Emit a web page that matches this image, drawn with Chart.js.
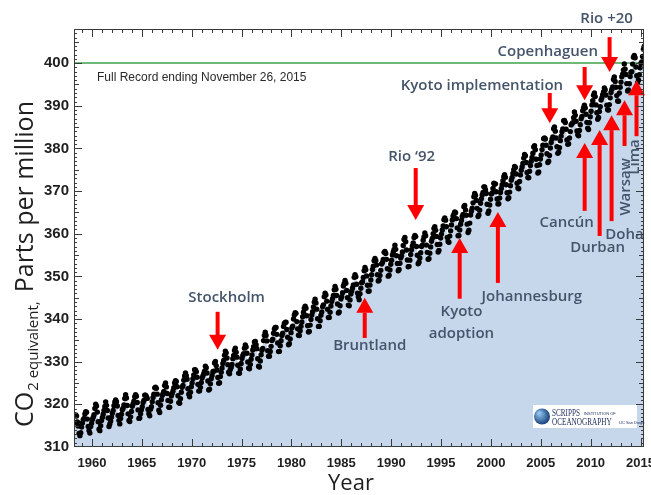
<!DOCTYPE html>
<html>
<head>
<meta charset="utf-8">
<script src="https://cdn.jsdelivr.net/npm/chart.js@4.4.1/dist/chart.umd.min.js"></script>
<style>
  html, body { margin: 0; padding: 0; background: #fff; }
  #wrap { width: 651px; height: 495px; }
</style>
</head>
<body>
<div id="wrap"><canvas id="chart" width="651" height="495"></canvas></div>
<script>
  // axis ticks
  const xTickYears = [1960, 1965, 1970, 1975, 1980, 1985, 1990, 1995, 2000, 2005, 2010, 2015];
  const yTickPpm = [310, 320, 330, 340, 350, 360, 370, 380, 390, 400];
  const markerPpm = 400;

  // monthly mean CO2 (ppm), each array starts in January of its first year
  const co2_1958_1969 = [
    null, null, 315.70, 317.45, 317.51, 317.24, 315.86, 314.93, 313.20, 312.66, 313.33, 314.67,
    315.62, 316.38, 316.71, 317.72, 318.29, 318.15, 316.54, 314.80, 313.84, 313.26, 314.80, 315.58,
    316.43, 316.97, 317.58, 319.02, 320.03, 319.59, 318.18, 315.91, 314.16, 313.83, 315.00, 316.19,
    316.93, 317.70, 318.54, 319.48, 320.58, 319.77, 318.57, 316.79, 314.80, 315.38, 316.10, 317.01,
    317.94, 318.56, 319.68, 320.57, 321.02, 320.62, 319.61, 317.40, 316.25, 315.42, 316.69, 317.70,
    318.74, 319.07, 319.86, 321.38, 322.25, 321.48, 319.74, 317.77, 316.21, 315.99, 317.07, 318.35,
    319.57, 320.07, 320.73, 321.77, 322.25, 321.89, 320.44, 318.70, 316.70, 316.79, 317.79, 318.71,
    319.44, 320.44, 320.89, 322.13, 322.16, 321.87, 321.39, 318.81, 317.81, 317.30, 318.87, 319.42,
    320.62, 321.59, 322.39, 323.87, 324.01, 323.75, 322.39, 320.37, 318.64, 318.10, 319.79, 321.08,
    322.07, 322.50, 323.04, 324.42, 325.00, 324.09, 322.55, 320.92, 319.31, 319.31, 320.72, 321.96,
    322.57, 323.15, 323.89, 325.02, 325.57, 325.36, 324.14, 322.03, 320.41, 320.25, 321.31, 322.84,
    324.00, 324.42, 325.64, 326.66, 327.38, 326.70, 325.89, 323.67, 322.38, 321.78, 322.85, 324.12
  ];
  const co2_1970_1979 = [
    325.03, 325.99, 326.87, 328.13, 328.07, 327.66, 326.35, 324.69, 323.10, 323.16, 323.98, 325.13,
    326.17, 326.68, 327.18, 327.78, 328.92, 328.57, 327.34, 325.46, 323.36, 323.57, 324.80, 326.01,
    326.77, 327.63, 327.75, 329.72, 330.07, 329.09, 328.05, 326.32, 324.93, 325.06, 326.50, 327.55,
    328.54, 329.56, 330.30, 331.50, 332.48, 332.07, 330.87, 329.31, 327.51, 327.18, 328.16, 328.64,
    329.35, 330.71, 331.48, 332.65, 333.19, 332.20, 331.07, 329.15, 327.33, 327.28, 328.31, 329.58,
    330.73, 331.46, 331.90, 333.17, 333.94, 333.45, 331.97, 329.95, 328.50, 328.34, 329.37, 330.58,
    331.59, 332.75, 333.52, 334.64, 334.77, 334.00, 333.06, 330.68, 328.95, 328.75, 330.15, 331.62,
    332.66, 333.13, 334.95, 336.13, 336.93, 336.17, 334.88, 332.56, 331.29, 331.27, 332.41, 333.60,
    334.95, 335.25, 336.66, 337.69, 338.03, 338.01, 336.41, 334.41, 332.37, 332.41, 333.75, 334.90,
    336.14, 336.69, 338.27, 338.95, 339.21, 339.26, 337.54, 335.75, 333.98, 334.19, 335.31, 336.81
  ];
  const co2_1980_1989 = [
    337.90, 338.34, 340.01, 340.93, 341.48, 341.33, 339.40, 337.70, 336.19, 336.15, 337.27, 338.32,
    339.29, 340.55, 341.61, 342.53, 343.03, 342.54, 340.78, 338.44, 336.95, 337.08, 338.58, 339.88,
    340.96, 341.73, 342.81, 343.97, 344.63, 343.79, 342.32, 340.09, 338.28, 338.29, 339.60, 340.90,
    341.68, 342.90, 343.33, 345.25, 346.03, 345.63, 344.19, 342.27, 340.35, 340.38, 341.59, 343.05,
    344.10, 344.79, 345.52, 346.84, 347.63, 346.98, 345.53, 343.55, 341.40, 341.67, 343.10, 344.70,
    345.21, 346.16, 347.74, 348.34, 349.06, 348.38, 346.72, 345.02, 343.27, 343.13, 344.49, 345.88,
    346.56, 347.28, 348.01, 349.77, 350.38, 349.93, 348.16, 346.08, 345.22, 344.51, 345.93, 347.22,
    348.52, 348.73, 349.73, 351.31, 352.09, 351.53, 350.11, 347.92, 346.52, 346.59, 347.96, 349.16,
    350.39, 351.64, 352.40, 353.69, 354.21, 353.72, 352.69, 350.40, 348.92, 349.13, 350.20, 351.41,
    352.91, 353.27, 353.96, 355.64, 355.86, 355.37, 353.99, 351.81, 350.05, 350.25, 351.49, 352.85
  ];
  const co2_1990_1999 = [
    353.80, 355.04, 355.73, 356.32, 357.32, 356.34, 354.84, 353.01, 351.31, 351.62, 353.07, 354.33,
    354.84, 355.73, 357.23, 358.66, 359.13, 358.13, 356.19, 353.85, 352.25, 352.35, 353.81, 355.12,
    356.25, 357.11, 357.86, 359.09, 359.59, 359.33, 357.01, 354.94, 352.96, 353.32, 354.32, 355.57,
    357.00, 357.31, 358.47, 359.27, 360.19, 359.52, 357.33, 355.64, 354.03, 354.12, 355.41, 356.91,
    358.24, 358.92, 359.99, 361.23, 361.65, 360.81, 359.38, 357.46, 355.73, 356.07, 357.53, 358.98,
    359.92, 360.86, 361.83, 363.30, 363.69, 363.19, 361.64, 359.12, 358.17, 357.99, 359.45, 360.68,
    362.07, 363.24, 364.17, 364.57, 365.13, 364.92, 363.55, 361.38, 359.54, 359.58, 360.89, 362.24,
    363.09, 364.03, 364.51, 366.35, 366.64, 365.59, 364.31, 362.25, 360.29, 360.82, 362.49, 364.38,
    365.26, 365.98, 367.24, 368.66, 369.42, 368.99, 367.82, 365.95, 364.02, 364.40, 365.52, 367.13,
    368.18, 369.07, 369.68, 370.99, 370.96, 370.30, 369.45, 366.90, 364.81, 365.37, 366.72, 368.10
  ];
  const co2_2000_2009 = [
    369.29, 369.54, 370.60, 371.82, 371.58, 371.70, 369.86, 368.13, 367.00, 367.03, 368.37, 369.67,
    370.59, 371.51, 372.43, 373.37, 373.85, 373.22, 371.50, 369.61, 368.18, 368.45, 369.76, 371.24,
    372.53, 373.20, 374.12, 375.02, 375.76, 375.52, 374.01, 371.85, 370.75, 370.55, 372.25, 373.79,
    374.88, 375.64, 376.45, 377.73, 378.60, 378.28, 376.70, 374.38, 373.17, 373.14, 374.66, 375.99,
    377.00, 377.87, 378.88, 380.35, 380.62, 379.69, 377.47, 376.01, 374.25, 374.46, 376.16, 377.51,
    378.46, 379.73, 380.77, 382.29, 382.45, 382.21, 380.74, 378.74, 376.70, 377.00, 378.35, 380.11,
    381.38, 382.19, 382.67, 384.61, 385.03, 384.05, 382.46, 380.41, 378.85, 379.13, 380.15, 381.82,
    382.89, 383.90, 384.58, 386.50, 386.56, 386.10, 384.50, 381.99, 380.96, 381.12, 382.45, 383.95,
    385.52, 385.82, 386.03, 387.21, 388.54, 387.76, 386.36, 384.09, 383.18, 382.99, 384.19, 385.56,
    386.94, 387.48, 388.82, 389.55, 390.14, 389.48, 388.03, 386.11, 384.74, 384.43, 386.02, 387.42
  ];
  const co2_2010_2015 = [
    388.71, 390.20, 391.17, 392.46, 393.00, 392.15, 390.20, 388.35, 386.85, 387.24, 388.67, 389.79,
    391.33, 391.86, 392.60, 393.25, 394.19, 393.74, 392.51, 390.13, 389.08, 389.00, 390.28, 391.86,
    393.12, 393.86, 394.40, 396.18, 396.74, 395.71, 394.36, 392.39, 391.11, 391.05, 392.98, 394.34,
    395.55, 396.80, 397.43, 398.41, 399.78, 398.60, 397.32, 395.20, 393.45, 393.70, 395.16, 396.84,
    397.85, 398.01, 399.77, 401.38, 401.78, 401.25, 399.10, 397.03, 395.38, 396.03, 397.28, 398.91,
    399.98, 400.28, 401.54, 403.28, 403.96, 402.80, 401.31, 398.93, 397.63, 398.29, 400.16
  ];

  // annotations: arrow at `year` from `from` to `to` (ppm), label centred at textYear/textPpm
  const events = [
    { label: ['Stockholm'], year: 1972.6, from: 341.7, to: 332.8, textYear: 1973.5, textPpm: 345.0 },
    { label: ['Bruntland'], year: 1987.35, from: 335.8, to: 345.0, textYear: 1987.85, textPpm: 333.7 },
    { label: ['Rio \u201892'], year: 1992.46, from: 375.4, to: 363.2, textYear: 1992.05, textPpm: 378.0 },
    { label: ['Kyoto', 'adoption'], year: 1996.87, from: 345.0, to: 359.0, textYear: 1997.05, textPpm: 341.7 },
    { label: ['Johannesburg'], year: 2000.7, from: 348.7, to: 365.1, textYear: 2004.1, textPpm: 345.2 },
    { label: ['Kyoto implementation'], year: 2005.9, from: 393.0, to: 385.9, textYear: 1999.1, textPpm: 394.8 },
    { label: ['Copenhaguen'], year: 2009.4, from: 399.1, to: 391.3, textYear: 2005.7, textPpm: 402.6 },
    { label: ['Rio +20'], year: 2011.9, from: 406.1, to: 397.9, textYear: 2011.6, textPpm: 410.5 },
    { label: ['Canc\u00fan'], year: 2009.4, from: 365.6, to: 381.3, textYear: 2007.6, textPpm: 362.5 },
    { label: ['Durban'], year: 2010.9, from: 359.7, to: 384.3, textYear: 2010.7, textPpm: 356.7 },
    { label: ['Doha'], year: 2012.1, from: 363.2, to: 387.8, textYear: 2013.4, textPpm: 359.7 },
    { label: ['Warsaw'], year: 2013.4, from: 380.8, to: 391.3, textYear: 2013.5, textPpm: 371.0, rotate: true },
    { label: ['Lima'], year: 2014.6, from: 383.1, to: 396.0, textYear: 2014.4, textPpm: 378.0, rotate: true }
  ];

  const X_MIN = 1958.2;
  const X_MAX = 2015.35;
  const Y_MIN = 310;
  const Y_MAX = 408;

  function toPoints(firstYear, values) {
    const pts = [];
    values.forEach((v, i) => {
      if (v === null) return;
      pts.push({ x: firstYear + Math.floor(i / 12) + ((i % 12) + 0.5) / 12, y: v });
    });
    return pts;
  }

  const co2Points = [].concat(
    toPoints(1958, co2_1958_1969),
    toPoints(1970, co2_1970_1979),
    toPoints(1980, co2_1980_1989),
    toPoints(1990, co2_1990_1999),
    toPoints(2000, co2_2000_2009),
    toPoints(2010, co2_2010_2015)
  );

  const textColor = '#1e1e1e';
  const noteColor = '#44546a';
  const arrowColor = '#ff0000';
  const narrow = '"Liberation Sans Narrow", "Arial Narrow", sans-serif';

  function drawArrow(ctx, x, y0, y1) {
    const dir = Math.sign(y1 - y0);
    const headLen = 15;
    const halfW = 8.5;
    const yb = y1 - dir * headLen;
    ctx.fillStyle = arrowColor;
    ctx.fillRect(x - 2, Math.min(y0, yb), 4, Math.abs(yb - y0) + 1);
    ctx.beginPath();
    ctx.moveTo(x - halfW, yb);
    ctx.lineTo(x + halfW, yb);
    ctx.lineTo(x, y1);
    ctx.closePath();
    ctx.fill();
  }

  const overlay = {
    id: 'overlay',
    afterDatasetsDraw(chart) {
      const { ctx, scales: { x, y } } = chart;
      ctx.save();
      events.forEach((ev) => {
        drawArrow(ctx, x.getPixelForValue(ev.year), y.getPixelForValue(ev.from), y.getPixelForValue(ev.to));
      });
      ctx.font = '600 15px "Open Sans", sans-serif';
      ctx.fillStyle = noteColor;
      ctx.textAlign = 'center';
      ctx.textBaseline = 'middle';
      events.forEach((ev) => {
        const tx = x.getPixelForValue(ev.textYear);
        const ty = y.getPixelForValue(ev.textPpm);
        if (ev.rotate) {
          ctx.save();
          ctx.translate(tx, ty);
          ctx.rotate(-Math.PI / 2);
          ctx.fillText(ev.label[0], 0, 0);
          ctx.restore();
        } else {
          ev.label.forEach((line, i) => ctx.fillText(line, tx, ty + i * 22));
        }
      });
      ctx.restore();
    },
    afterDraw(chart) {
      const { ctx, chartArea: a, scales: { x, y } } = chart;
      ctx.save();

      // frame and inward ticks
      ctx.strokeStyle = '#3a3a3a';
      ctx.lineWidth = 1;
      ctx.strokeRect(a.left + 0.5, a.top + 0.5, a.right - a.left - 1, a.bottom - a.top - 1);
      ctx.beginPath();
      for (let yr = Math.ceil(X_MIN); yr <= Math.floor(X_MAX); yr++) {
        const px = Math.round(x.getPixelForValue(yr)) + 0.5;
        const len = yr % 5 === 0 ? 8 : 4;
        ctx.moveTo(px, a.bottom);
        ctx.lineTo(px, a.bottom - len);
        ctx.moveTo(px, a.top);
        ctx.lineTo(px, a.top + len);
      }
      for (let p = Y_MIN + 1; p < Y_MAX; p++) {
        const py = Math.round(y.getPixelForValue(p)) + 0.5;
        const len = p % 10 === 0 ? 8 : (p % 5 === 0 ? 5 : 3);
        ctx.moveTo(a.left, py);
        ctx.lineTo(a.left + len, py);
        ctx.moveTo(a.right, py);
        ctx.lineTo(a.right - len, py);
      }
      ctx.stroke();

      // record note
      ctx.fillStyle = '#2a2a2a';
      ctx.font = '12px ' + narrow;
      ctx.textAlign = 'left';
      ctx.textBaseline = 'middle';
      ctx.fillText('Full Record ending November 26, 2015', a.left + 23, y.getPixelForValue(396.7));

      // Scripps logo
      const lx = a.right - 111;
      const ly = a.bottom - 42;
      ctx.fillStyle = '#ffffff';
      ctx.fillRect(lx, ly, 104, 23);
      const grad = ctx.createRadialGradient(lx + 6, ly + 8, 1, lx + 8, ly + 11, 9);
      grad.addColorStop(0, '#8fc4ee');
      grad.addColorStop(1, '#173f7a');
      ctx.fillStyle = grad;
      ctx.beginPath();
      ctx.arc(lx + 9, ly + 11.5, 8, 0, Math.PI * 2);
      ctx.fill();
      ctx.fillStyle = '#1c2a5a';
      ctx.textBaseline = 'alphabetic';
      ctx.font = '10px "Liberation Serif", serif';
      ctx.save();
      ctx.translate(lx + 19, ly + 11);
      ctx.scale(0.72, 1);
      ctx.fillText('SCRIPPS', 0, 0);
      ctx.fillText('OCEANOGRAPHY', 0, 9);
      ctx.restore();
      ctx.font = '4px "Liberation Sans", sans-serif';
      ctx.fillText('INSTITUTION OF', lx + 51, ly + 10);
      ctx.fillText('UC San Diego', lx + 86, ly + 19);

      // y title with subscript
      ctx.fillStyle = textColor;
      ctx.translate(33, a.bottom - 20);
      ctx.rotate(-Math.PI / 2);
      ctx.textAlign = 'left';
      let cx = 0;
      ctx.font = '25px "Open Sans", sans-serif';
      ctx.fillText('CO', cx, 0);
      cx += ctx.measureText('CO').width + 1;
      ctx.font = '15px "Open Sans", sans-serif';
      ctx.fillText('2 equivalent,', cx, 5);
      cx += ctx.measureText('2 equivalent,').width + 9;
      ctx.font = '25px "Open Sans", sans-serif';
      ctx.fillText('Parts per million', cx, 0);
      ctx.restore();

      // x title
      ctx.save();
      ctx.fillStyle = textColor;
      ctx.font = '22px "Open Sans", sans-serif';
      ctx.textAlign = 'center';
      ctx.textBaseline = 'alphabetic';
      ctx.fillText('Year', 351, 490);
      ctx.restore();
    }
  };

  new Chart(document.getElementById('chart'), {
    type: 'line',
    data: {
      datasets: [
        {
          label: 'CO2',
          data: co2Points,
          fill: 'start',
          backgroundColor: '#c6d7eb',
          borderColor: 'transparent',
          borderWidth: 0,
          pointRadius: 2.7,
          pointBackgroundColor: '#000000',
          pointBorderWidth: 0,
          order: 1
        },
        {
          label: '400 ppm',
          data: [{ x: X_MIN, y: markerPpm }, { x: X_MAX, y: markerPpm }],
          borderColor: '#3f9f48',
          borderWidth: 1.5,
          pointRadius: 0,
          fill: false,
          order: 2
        }
      ]
    },
    options: {
      responsive: false,
      animation: false,
      layout: { padding: { top: 29, right: 7, left: 0, bottom: 0 } },
      plugins: {
        legend: { display: false },
        tooltip: { enabled: false },
        filler: { drawTime: 'beforeDatasetsDraw' }
      },
      scales: {
        x: {
          type: 'linear',
          min: X_MIN,
          max: X_MAX,
          afterBuildTicks: (s) => { s.ticks = xTickYears.map((v) => ({ value: v })); },
          afterFit: (s) => { s.height = 48; s.paddingLeft = 0; s.paddingRight = 0; },
          grid: { display: false, drawTicks: false },
          border: { display: false },
          ticks: {
            padding: 9,
            autoSkip: false,
            maxRotation: 0,
            color: textColor,
            font: { family: narrow, size: 13, weight: 'bold' },
            callback: (v) => String(v)
          }
        },
        y: {
          type: 'linear',
          min: Y_MIN,
          max: Y_MAX,
          afterBuildTicks: (s) => { s.ticks = yTickPpm.map((v) => ({ value: v })); },
          afterFit: (s) => { s.width = 74; s.paddingTop = 0; s.paddingBottom = 0; },
          grid: { display: false, drawTicks: false },
          border: { display: false },
          ticks: {
            padding: 5,
            color: textColor,
            font: { family: narrow, size: 15, weight: 'bold' },
            callback: (v) => String(v)
          }
        }
      }
    },
    plugins: [overlay]
  });
</script>
</body>
</html>
